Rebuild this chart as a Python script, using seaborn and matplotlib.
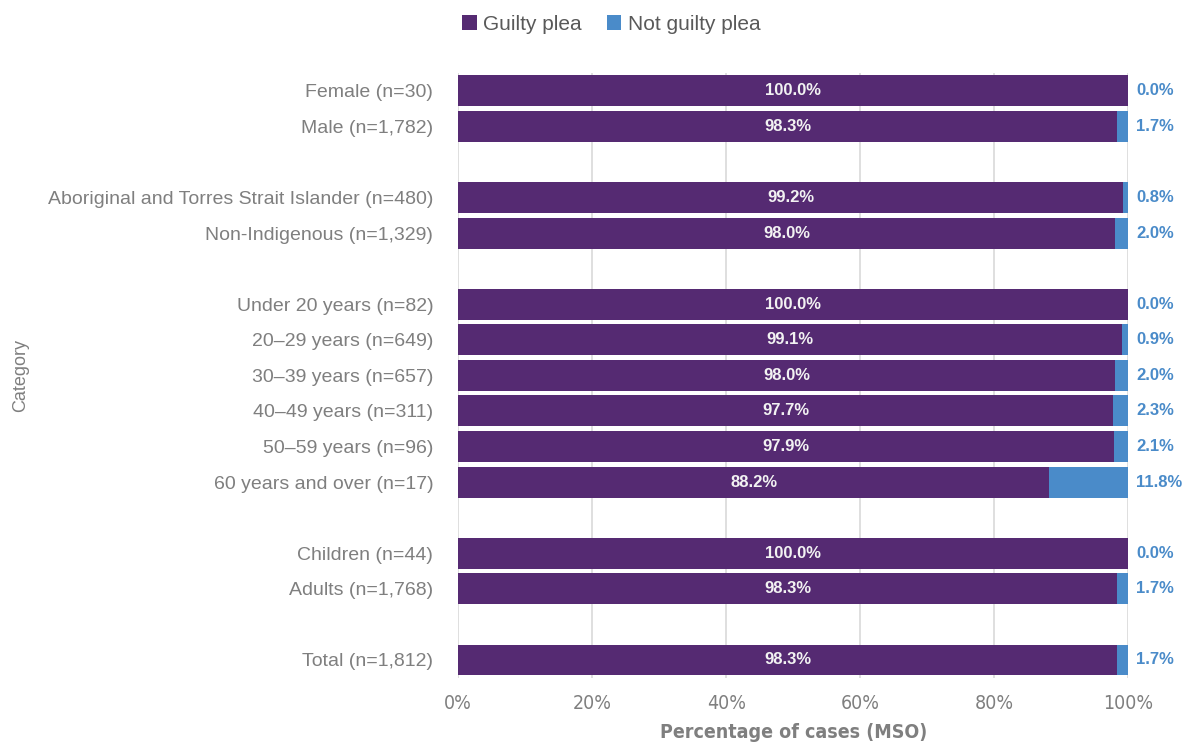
import pandas as pd
import numpy as np
import matplotlib
matplotlib.use("Agg")
import matplotlib.pyplot as plt
import seaborn as sns

# chart data (blank entries are gaps between groups)
categories = ["Female (n=30)", "Male (n=1,782)", " ",
              "Aboriginal and Torres Strait Islander (n=480)", "Non-Indigenous (n=1,329)", "  ",
              "Under 20 years (n=82)", "20\u201329 years (n=649)", "30\u201339 years (n=657)",
              "40\u201349 years (n=311)", "50\u201359 years (n=96)", "60 years and over (n=17)", "   ",
              "Children (n=44)", "Adults (n=1,768)", "    ",
              "Total (n=1,812)"]
guilty = [100.0, 98.3, np.nan, 99.2, 98.0, np.nan, 100.0, 99.1, 98.0, 97.7, 97.9, 88.2, np.nan,
          100.0, 98.3, np.nan, 98.3]
not_guilty = [0.0, 1.7, np.nan, 0.8, 2.0, np.nan, 0.0, 0.9, 2.0, 2.3, 2.1, 11.8, np.nan,
              0.0, 1.7, np.nan, 1.7]

purple = "#552a72"
blue = "#4a8bc9"
grey = "#7f7f7f"

df = pd.DataFrame({"Category": categories, "Guilty": guilty, "NotGuilty": not_guilty})
df["Total"] = df["Guilty"] + df["NotGuilty"]

sns.set_style("white")
plt.rcParams["font.family"] = ["Liberation Sans", "DejaVu Sans"]

fig = plt.figure(figsize=(11.87, 7.44), dpi=100)
ax = fig.add_axes([0.386, 0.089, 0.5645, 0.813])

# stacked bars: full total in blue, guilty share in purple on top
sns.barplot(data=df, x="Total", y="Category", order=categories, color=blue,
            width=0.87, saturation=1, ax=ax, label="Not guilty plea", linewidth=0)
sns.barplot(data=df, x="Guilty", y="Category", order=categories, color=purple,
            width=0.87, saturation=1, ax=ax, label="Guilty plea", linewidth=0)

# value labels
for i, (g, n) in enumerate(zip(guilty, not_guilty)):
    if np.isnan(g):
        continue
    ax.text(g / 2, i, f"{g:.1f}%", ha="center", va="center", color="#f2f2f2",
            fontsize=12, fontweight="bold")
    ax.text(101.2, i, f"{n:.1f}%", ha="left", va="center", color=blue,
            fontsize=12, fontweight="bold")

ax.set_xlim(0, 100)
ax.set_ylim(16.5, -0.5)
ax.set_xticks(range(0, 101, 20))
ax.set_xticklabels([f"{t}%" for t in range(0, 101, 20)],
                   family="DejaVu Sans", fontstretch="condensed", fontsize=14, color=grey)
ax.tick_params(axis="y", labelsize=14, labelcolor=grey, length=0, pad=18)
ax.tick_params(axis="x", length=0, pad=12)
ax.xaxis.grid(True, color="#d9d9d9", linewidth=1.2)
ax.set_axisbelow(True)
for s in ax.spines.values():
    s.set_visible(False)

ax.set_xlabel("Percentage of cases (MSO)", family="DejaVu Sans", fontstretch="condensed",
              fontsize=14, color=grey, fontweight="bold", labelpad=7)
ax.set_ylabel("Category", fontsize=13, color=grey)
ax.yaxis.set_label_coords(-0.64, 0.5)

handles, labels = ax.get_legend_handles_labels()
order = [labels.index("Guilty plea"), labels.index("Not guilty plea")]
fig.legend([handles[k] for k in order], [labels[k] for k in order],
           loc="upper center", bbox_to_anchor=(0.515, 1.005), ncol=2, frameon=False,
           fontsize=15, labelcolor="#595959", handlelength=0.7, handleheight=0.7,
           handletextpad=0.3, columnspacing=1.2)
if ax.get_legend():
    ax.get_legend().remove()

fig.savefig("out.png", dpi=100)
